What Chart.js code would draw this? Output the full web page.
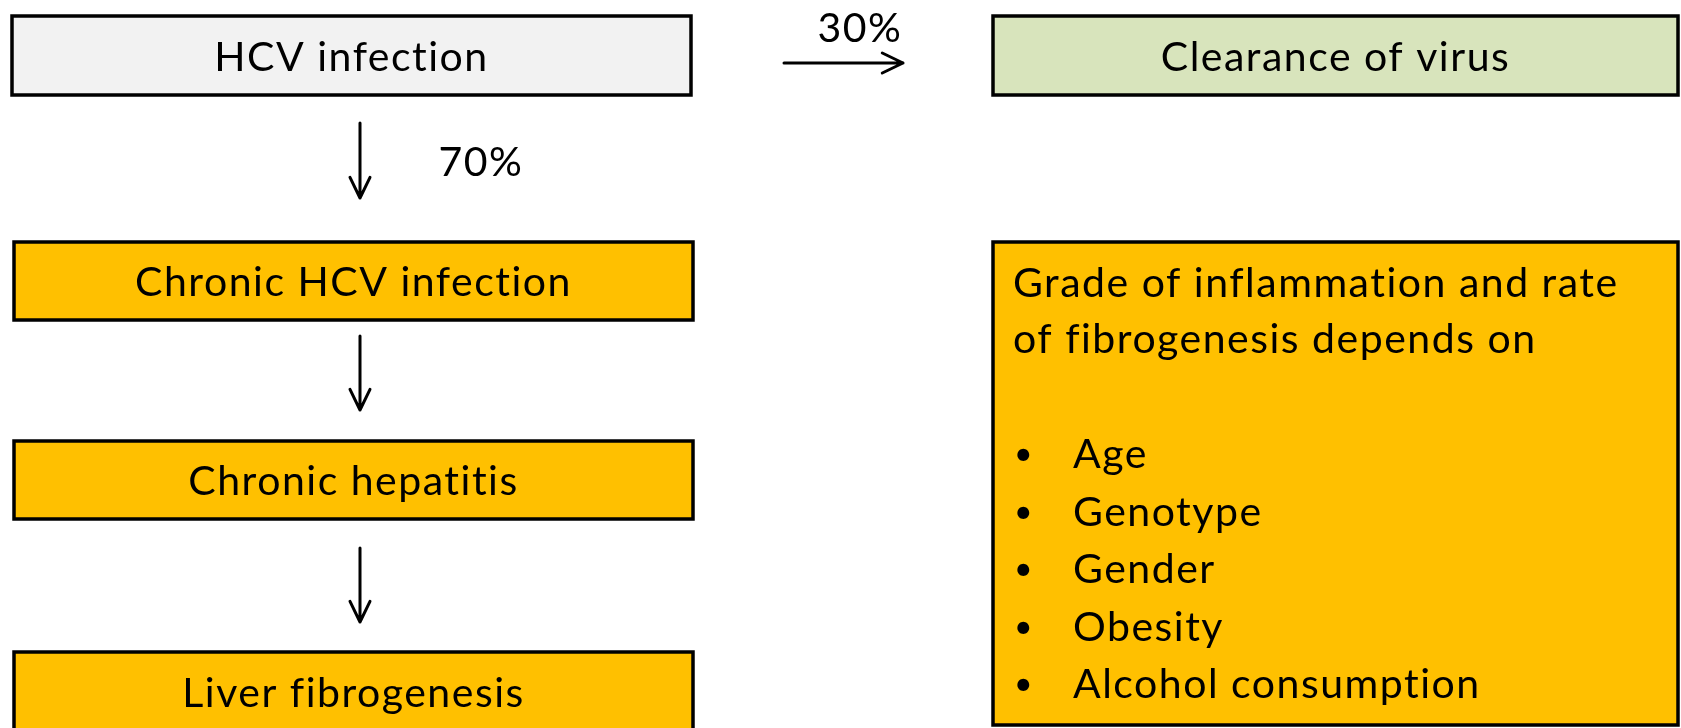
<!DOCTYPE html>
<html>
<head>
<meta charset="utf-8">
<script src="https://cdn.jsdelivr.net/npm/chart.js@4.4.1/dist/chart.umd.min.js"></script>
<style>
  html, body { margin: 0; padding: 0; background: #fff; overflow: hidden; }
  #wrap { width: 1681px; height: 728px; }
</style>
</head>
<body>
<div id="wrap"><canvas id="flow" width="1681" height="728"></canvas></div>
<script>
// steps of the left column, top to bottom
const steps = ["HCV infection", "Chronic HCV infection", "Chronic hepatitis", "Liver fibrogenesis"];
const outcome = "Clearance of virus";
const shares = ["70%", "30%"]; // to chronic infection / to clearance
const heading = ["Grade of inflammation and rate", "of fibrogenesis depends on"];
const factors = ["Age", "Genotype", "Gender", "Obesity", "Alcohol consumption"];

// layout, in axis units (x 0..1681, y 0..728 counted from the top)
const stepBoxes = [[12, 691, 16, 95], [14, 693, 242, 320], [14, 693, 441, 519], [14, 693, 652, 731]];
const stepFills = ["#f2f2f2", "#ffc000", "#ffc000", "#ffc000"];
const outcomeBox = [993, 1678, 16, 95];
const factorBox = [993, 1678, 242, 725];
const downArrows = [[123, 198], [336, 410], [548, 622]]; // x = 360
const FONT = "41px Lato";

const flowPlugin = {
  id: "flow",
  afterDraw(chart) {
    const { ctx } = chart;
    const px = v => chart.scales.x.getPixelForValue(v);
    const py = v => chart.scales.y.getPixelForValue(v);

    const box = (b, fill) => {
      const x0 = px(b[0]), x1 = px(b[1]), y0 = py(b[2]), y1 = py(b[3]);
      ctx.fillStyle = fill;
      ctx.fillRect(x0, y0, x1 - x0, y1 - y0);
      ctx.lineWidth = 3.5;
      ctx.strokeStyle = "#000";
      ctx.strokeRect(x0, y0, x1 - x0, y1 - y0);
    };
    const label = (txt, x, base, align, font) => {
      ctx.font = font || FONT;
      ctx.letterSpacing = "1.5px";
      ctx.fillStyle = "#000";
      ctx.textAlign = align || "center";
      ctx.textBaseline = "alphabetic";
      ctx.fillText(txt, px(x), py(base));
    };
    // open arrow: shaft plus two head strokes
    const arrow = (x0, y0, x1, y1) => {
      const ax = px(x0), ay = py(y0), bx = px(x1), by = py(y1);
      const ang = Math.atan2(by - ay, bx - ax);
      ctx.strokeStyle = "#000";
      ctx.lineWidth = 3;
      ctx.lineCap = "round";
      ctx.beginPath();
      ctx.moveTo(ax, ay);
      ctx.lineTo(bx, by);
      [0.45, -0.45].forEach(d => {
        ctx.moveTo(bx, by);
        ctx.lineTo(bx - 23 * Math.cos(ang + d), by - 23 * Math.sin(ang + d));
      });
      ctx.stroke();
    };

    ctx.save();
    steps.forEach((s, i) => {
      const b = stepBoxes[i];
      box(b, stepFills[i]);
      label(s, (b[0] + b[1]) / 2, (b[2] + b[3]) / 2 + 15);
    });
    box(outcomeBox, "#d8e4bc");
    label(outcome, (outcomeBox[0] + outcomeBox[1]) / 2, 71);

    downArrows.forEach(a => arrow(360, a[0], 360, a[1]));
    label(shares[0], 481, 176);
    arrow(784, 63, 903, 63);
    label(shares[1], 860, 42);

    box(factorBox, "#ffc000");
    heading.forEach((h, i) => label(h, 1013, 297 + i * 56, "left"));
    factors.forEach((f, i) => {
      const base = 468 + i * 57.5;
      label("\u2022", 1014, base - 3, "left", "32px Lato");
      label(f, 1073, base, "left");
    });
    ctx.restore();
  }
};

new Chart(document.getElementById("flow"), {
  type: "scatter",
  data: { datasets: [] },
  options: {
    responsive: false,
    animation: false,
    layout: { padding: 0 },
    scales: {
      x: { type: "linear", min: 0, max: 1681, display: false },
      y: { type: "linear", min: 0, max: 728, reverse: true, display: false }
    },
    plugins: { legend: { display: false }, tooltip: { enabled: false } }
  },
  plugins: [flowPlugin]
});
</script>
</body>
</html>
